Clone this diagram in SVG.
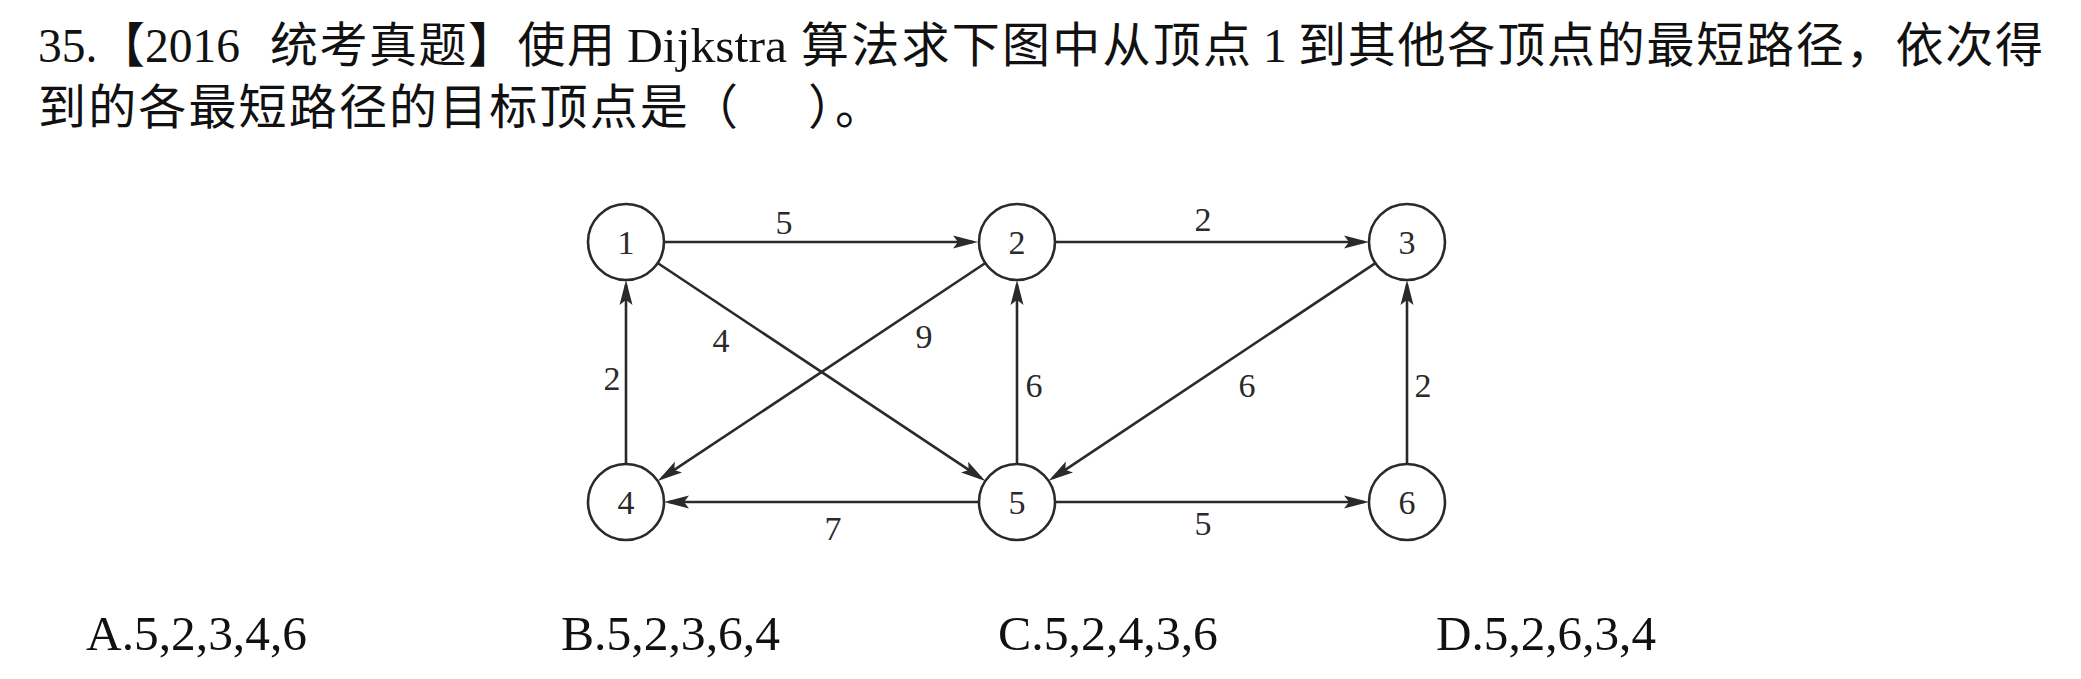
<svg xmlns="http://www.w3.org/2000/svg" width="2081" height="679" viewBox="0 0 2081 679">
<style>
.t{font-family:"Liberation Serif","Noto Sans CJK SC",serif;font-size:48px;fill:#111}
.n{fill:#fff;stroke:#2a2a2a;stroke-width:2.6}
.nl{font-family:"Liberation Serif",serif;font-size:34px;fill:#2a2a2a;text-anchor:middle}
.e{stroke:#2a2a2a;stroke-width:2.6;fill:none;marker-end:url(#arr)}
.el{font-family:"Liberation Serif",serif;font-size:34px;fill:#2a2a2a;text-anchor:middle}
</style>
<defs>
<marker id="arr" markerUnits="userSpaceOnUse" markerWidth="26" markerHeight="14" refX="20" refY="7" orient="auto" viewBox="0 0 26 14">
<path d="M0,0.5 L25,7 L0,13.5 L5,7 z" fill="#2a2a2a"/>
</marker>
</defs>
<rect width="2081" height="679" fill="#fff"/>
<g id="title">
<text class="t" x="38" y="62" textLength="202" lengthAdjust="spacingAndGlyphs">35.【2016</text>
<text class="t" x="270" y="62" textLength="345" lengthAdjust="spacing">统考真题】使用</text>
<text class="t" x="627" y="62" textLength="160" lengthAdjust="spacingAndGlyphs">Dijkstra</text>
<text class="t" x="801" y="62" textLength="450" lengthAdjust="spacing">算法求下图中从顶点</text>
<text class="t" x="1263" y="62">1</text>
<text class="t" x="1298" y="62" textLength="745" lengthAdjust="spacing">到其他各顶点的最短路径，依次得</text>
<text class="t" x="38" y="124" textLength="700" lengthAdjust="spacing">到的各最短路径的目标顶点是（</text>
<text class="t" x="808" y="124">）</text>
<text class="t" x="835" y="124">。</text>
</g>
<g id="connectors">
<line class="e" x1="664" y1="242" x2="973" y2="242"/>
<line class="e" x1="1055" y1="242" x2="1364" y2="242"/>
<line class="e" x1="1055" y1="502" x2="1364" y2="502"/>
<line class="e" x1="978" y1="502" x2="669" y2="502"/>
<line class="e" x1="626" y1="464" x2="626" y2="285"/>
<line class="e" x1="1017" y1="464" x2="1017" y2="285"/>
<line class="e" x1="1407" y1="464" x2="1407" y2="285"/>
<line class="e" x1="657.6" y1="263" x2="981.2" y2="478.2"/>
<line class="e" x1="985.4" y1="263" x2="661.8" y2="478.2"/>
<line class="e" x1="1375.4" y1="263.1" x2="1052.8" y2="478.1"/>
<text class="el" x="784" y="234">5</text>
<text class="el" x="1203" y="231">2</text>
<text class="el" x="721" y="352">4</text>
<text class="el" x="924" y="348">9</text>
<text class="el" x="612" y="390">2</text>
<text class="el" x="1034" y="397">6</text>
<text class="el" x="1247" y="397">6</text>
<text class="el" x="1423" y="397">2</text>
<text class="el" x="833" y="540">7</text>
<text class="el" x="1203" y="535">5</text>
</g>
<g id="node1"><circle class="n" cx="626" cy="242" r="38"/><text class="nl" x="626" y="254">1</text></g>
<g id="node2"><circle class="n" cx="1017" cy="242" r="38"/><text class="nl" x="1017" y="254">2</text></g>
<g id="node3"><circle class="n" cx="1407" cy="242" r="38"/><text class="nl" x="1407" y="254">3</text></g>
<g id="node4"><circle class="n" cx="626" cy="502" r="38"/><text class="nl" x="626" y="514">4</text></g>
<g id="node5"><circle class="n" cx="1017" cy="502" r="38"/><text class="nl" x="1017" y="514">5</text></g>
<g id="node6"><circle class="n" cx="1407" cy="502" r="38"/><text class="nl" x="1407" y="514">6</text></g>
<g id="options">
<text class="t" x="86" y="650" textLength="221" lengthAdjust="spacingAndGlyphs">A.5,2,3,4,6</text>
<text class="t" x="561" y="650" textLength="219" lengthAdjust="spacingAndGlyphs">B.5,2,3,6,4</text>
<text class="t" x="998" y="650" textLength="220" lengthAdjust="spacingAndGlyphs">C.5,2,4,3,6</text>
<text class="t" x="1436" y="650" textLength="220" lengthAdjust="spacingAndGlyphs">D.5,2,6,3,4</text>
</g>
</svg>
